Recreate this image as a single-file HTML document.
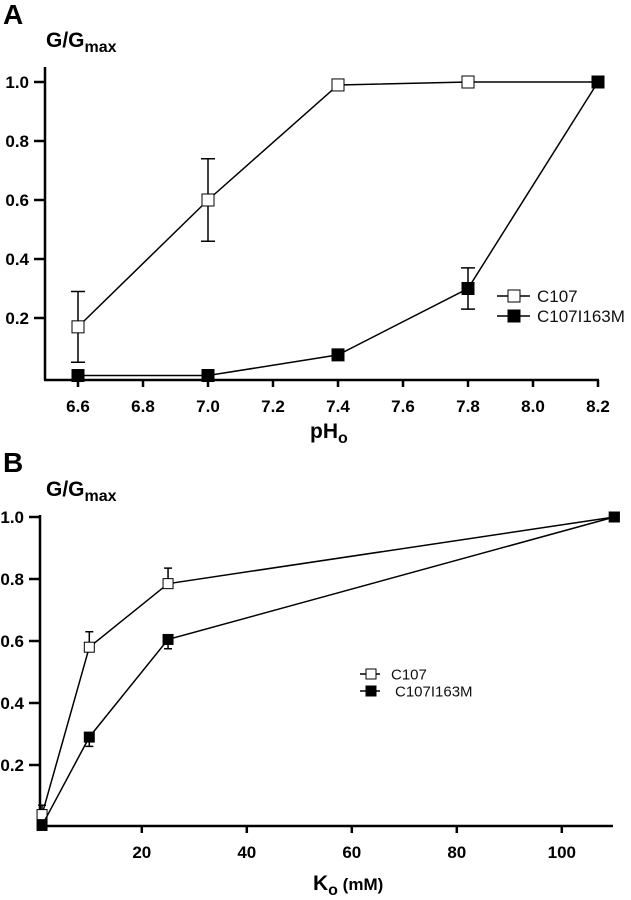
<!DOCTYPE html>
<html><head><meta charset="utf-8"><style>
body{margin:0;background:#fff}
svg{display:block;font-family:"Liberation Sans",sans-serif}
</style></head><body>
<svg id="fig" width="631" height="900" viewBox="0 0 631 900" xmlns="http://www.w3.org/2000/svg">
<text x="3" y="24" font-size="28" font-weight="bold">A</text>
<text x="46" y="47" font-size="21" font-weight="bold">G/G<tspan font-size="16" dy="5">max</tspan></text>
<text x="310" y="438" font-size="21" font-weight="bold">pH<tspan font-size="16" dy="5">o</tspan></text>
<text x="3" y="472" font-size="28" font-weight="bold">B</text>
<text x="46" y="496" font-size="21" font-weight="bold">G/G<tspan font-size="16" dy="5">max</tspan></text>
<text x="313" y="890" font-size="21" font-weight="bold">K<tspan font-size="16" dy="5">o</tspan><tspan font-size="17" dy="-5"> (mM)</tspan></text>
<g id="pa"></g>
<g id="pb"></g>
</svg>
<script>
const NS="http://www.w3.org/2000/svg";
// Panel A data
const aX=[6.6,7.0,7.4,7.8,8.2];
const aC107=[0.17,0.60,0.99,1.0,1.0];
const aC107Lo=[0.05,0.46,0.99,1.0,1.0];
const aC107Hi=[0.29,0.74,0.99,1.0,1.0];
const aMut=[0.005,0.005,0.075,0.30,1.0];
const aMutLo=[0.005,0.005,0.075,0.23,1.0];
const aMutHi=[0.005,0.005,0.075,0.37,1.0];
const aXTicks=[6.6,6.8,7.0,7.2,7.4,7.6,7.8,8.0,8.2];
const aXTickLabels=["6.6","6.8","7.0","7.2","7.4","7.6","7.8","8.0","8.2"];
const aYTicks=[0.2,0.4,0.6,0.8,1.0];
const aYTickLabels=["0.2","0.4","0.6","0.8","1.0"];
// Panel B data
const bX=[1,10,25,110];
const bC107=[0.04,0.58,0.785,1.0];
const bC107Hi=[0.07,0.63,0.835,1.0];
const bC107Lo=[0.04,0.58,0.785,1.0];
const bMut=[0.005,0.29,0.605,1.0];
const bMutLo=[0.005,0.26,0.575,1.0];
const bMutHi=[0.005,0.29,0.605,1.0];
const bXTicks=[20,40,60,80,100];
const bXTickLabels=["20","40","60","80","100"];
const bYTicks=[0.2,0.4,0.6,0.8,1.0];
const bYTickLabels=["0.2","0.4","0.6","0.8","1.0"];
const seriesNames=["C107","C107I163M"];

function mk(parent,tag,attrs){const e=document.createElementNS(NS,tag);for(const k in attrs)e.setAttribute(k,attrs[k]);parent.appendChild(e);return e;}

function panel(g,cfg){
  const sx=v=>cfg.x0+(v-cfg.xv0)*cfg.xs;
  const sy=v=>cfg.y0-v*cfg.ys;
  const ya=mk(g,'line',{x1:cfg.ax,y1:cfg.atop,x2:cfg.ax,y2:cfg.ay,stroke:'#000','stroke-width':2.5});
  
  
  const xa=mk(g,'line',{x1:cfg.ax-1,y1:cfg.ay,x2:cfg.aend,y2:cfg.ay,stroke:'#000','stroke-width':2.5});
  
  
  cfg.xt.forEach((v,i)=>{
    const t=mk(g,'line',{x1:sx(v),y1:cfg.ay,x2:sx(v),y2:cfg.ay+7,stroke:'#000','stroke-width':2.5});
    
    
    const l=mk(g,'text',{x:sx(v),y:cfg.ay+32,'font-size':17,'font-weight':'bold','text-anchor':'middle'});
    l.textContent=cfg.xtl[i];
    
    
  });
  cfg.yt.forEach((v,i)=>{
    const t=mk(g,'line',{x1:cfg.ax-11,y1:sy(v),x2:cfg.ax,y2:sy(v),stroke:'#000','stroke-width':2.5});
    
    
    const l=mk(g,'text',{x:cfg.ax-16,y:sy(v)+6,'font-size':17,'font-weight':'bold','text-anchor':'end'});
    l.textContent=cfg.ytl[i];
    
    
  });
  cfg.series.forEach((s,si)=>{
    const pts=cfg.xs_.map((v,i)=>sx(v)+','+sy(s.y[i])).join(' ');
    const pl=mk(g,'polyline',{points:pts,fill:'none',stroke:'#000','stroke-width':1.5});
    
    
    cfg.xs_.forEach((v,i)=>{
      if(s.hi[i]-s.lo[i]>0.001){
        const x=sx(v),cw=cfg.cap;
        const eb=mk(g,'path',{d:`M${x},${sy(s.hi[i])}V${sy(s.lo[i])}M${x-cw},${sy(s.hi[i])}H${x+cw}M${x-cw},${sy(s.lo[i])}H${x+cw}`,stroke:'#000','stroke-width':1.5,fill:'none'});
        
        
      }
    });
    cfg.xs_.forEach((v,i)=>{
      const m=cfg.ms;
      const r=mk(g,'rect',{x:sx(v)-m/2,y:sy(s.y[i])-m/2,width:m,height:m,fill:s.fill,stroke:'#000','stroke-width':1});
      
      
    });
  });
  cfg.legend.forEach((L,i)=>{
    const ln=mk(g,'line',{x1:L.x1,y1:L.y,x2:L.x2,y2:L.y,stroke:'#000','stroke-width':1.5});
    
    
    const r=mk(g,'rect',{x:L.mx-L.m/2,y:L.y-L.m/2,width:L.m,height:L.m,fill:cfg.series[i].fill,stroke:'#000','stroke-width':1});
    
    
    const t=mk(g,'text',{x:L.tx,y:L.y+L.fs*0.36,'font-size':L.fs,fill:'#111'});
    t.textContent=seriesNames[i];
    
    
  });
}

panel(document.getElementById('pa'),{
  x0:78,xv0:6.6,xs:65/0.2,y0:377,ys:295,
  ax:45,atop:67,ay:380,aend:599,
  xt:aXTicks,xtl:aXTickLabels,yt:aYTicks,ytl:aYTickLabels,
  xs_:aX,ms:12,cap:7,
  series:[{y:aC107,lo:aC107Lo,hi:aC107Hi,fill:'#fff'},{y:aMut,lo:aMutLo,hi:aMutHi,fill:'#000'}],
  legend:[{x1:497,x2:530,mx:514,m:12,y:296,tx:537,fs:17},{x1:497,x2:530,mx:514,m:12,y:316,tx:537,fs:17}]
});
panel(document.getElementById('pb'),{
  x0:36.8,xv0:0,xs:105/20,y0:827,ys:310,
  ax:40,atop:515,ay:826,aend:613,
  xt:bXTicks,xtl:bXTickLabels,yt:bYTicks,ytl:bYTickLabels,
  xs_:bX,ms:10,cap:4,
  series:[{y:bC107,lo:bC107Lo,hi:bC107Hi,fill:'#fff'},{y:bMut,lo:bMutLo,hi:bMutHi,fill:'#000'}],
  legend:[{x1:360,x2:380,mx:371,m:10,y:674,tx:391,fs:15},{x1:360,x2:380,mx:371,m:10,y:691,tx:395,fs:15}]
});
</script>
</body></html>
